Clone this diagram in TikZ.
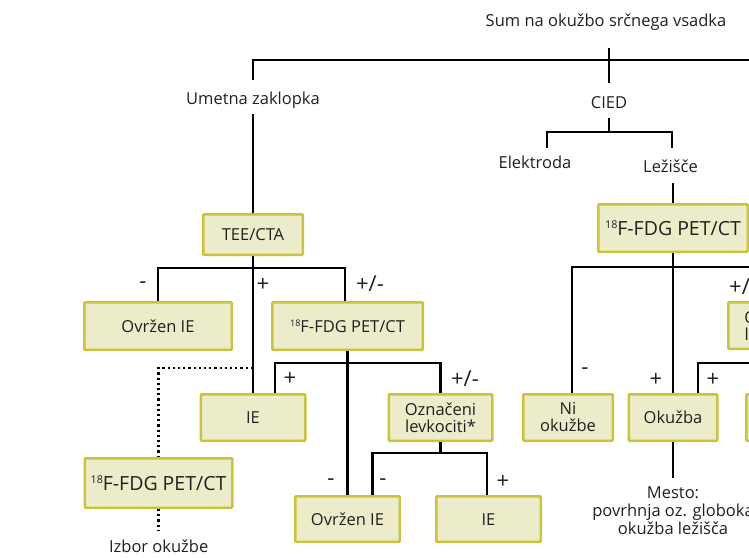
\documentclass[tikz,border=0pt]{standalone}
\usepackage{fontspec}
\setmainfont{Open Sans}
\definecolor{boxc}{HTML}{C9C43C}
\definecolor{boxf}{HTML}{ECECCB}
\definecolor{ink}{HTML}{231F20}
\newcommand\myfs{\fontsize{16.5}{17}\selectfont}
\newcommand\mybigfs{\fontsize{19.5}{20}\selectfont}
\newcommand\mylblfs{\fontsize{22}{22}\selectfont}
\newcommand\myiso{\raisebox{0.32em}{\scalebox{0.55}{18}}}
\begin{document}
\begin{tikzpicture}[x=1pt,y=-1pt,
  conn/.style={line width=2.2pt, draw=black},
  dots/.style={line width=2.2pt, draw=black, dash pattern=on 2.2pt off 3pt},
  box/.style={draw=boxc, fill=boxf, line width=2.5pt, inner sep=0pt, rounded corners=1pt, text=ink, font=\myfs},
  one/.style={text height=12pt, text depth=0pt},
  two/.style={align=center, font=\fontsize{16.5}{17}\selectfont},
  lbl/.style={anchor=base, inner sep=0pt, text=ink, font=\myfs},
  sign/.style={anchor=base, inner sep=0pt, text=ink, font=\mylblfs},
  ]
\useasboundingbox (0,0) rectangle (749,557);
\clip (0,0) rectangle (749,557);

% boxes
\node[box,one,minimum width=99.5pt,minimum height=40.5pt] (tee) at (253,234.5) {TEE/CTA};
\node[box,one,minimum width=147.5pt,minimum height=47.5pt] (ovr1) at (158,326) {Ovržen IE};
\node[box,one,minimum width=150.5pt,minimum height=47.5pt] (fdg1) at (347.5,326) {\myiso F-FDG PET/CT};
\node[box,one,minimum width=104.5pt,minimum height=46.5pt] (ie1) at (253,417.5) {IE};
\node[box,one,font=\mybigfs,text height=14pt,minimum width=147.5pt,minimum height=49.5pt] (fdgL) at (158.5,483) {\myiso F-FDG PET/CT};
\node[box,two,minimum width=103.5pt,minimum height=46.5pt] (ozn1) at (440.5,417.5) {Označeni\\levkociti*};
\node[box,one,minimum width=104.5pt,minimum height=45.5pt] (ovr2) at (347.5,519) {Ovržen IE};
\node[box,one,minimum width=104.5pt,minimum height=45.5pt] (ie2) at (488.5,519) {IE};
\node[box,one,font=\mybigfs,text height=14pt,minimum width=149.5pt,minimum height=47.5pt] (fdgR) at (673,228) {\myiso F-FDG PET/CT};
\node[box,two,minimum width=89.5pt,minimum height=46.5pt] (ni) at (568,417.5) {Ni\\okužbe};
\node[box,one,minimum width=88.5pt,minimum height=46.5pt] (oku) at (673,417.5) {Okužba};
\node[box,two,minimum width=103.5pt,minimum height=46.5pt] (ozn2) at (780,325.5) {Označeni\\levkociti*};
\node[box,minimum width=103.5pt,minimum height=46.5pt] (rbox) at (798,417.5) {};

% plain texts
\node[lbl] (title) at (606,26) {Sum na okužbo srčnega vsadka};
\node[lbl] (umet) at (253,104) {Umetna zaklopka};
\node[lbl] (cied) at (609,108) {CIED};
\node[lbl] (elek) at (535,168) {Elektroda};
\node[lbl] (lez) at (670.5,172) {Ležišče};
\node[lbl] (izbor) at (158.7,552) {Izbor okužbe};
\node[lbl,anchor=north,align=center,font=\fontsize{16.5}{18}\selectfont] (mesto) at (673,487) {Mesto:\\povrhnja oz. globoka\\okužba ležišča};

% branch labels
\node[sign] (l1) at (143,288.5) {-};
\node[sign] (l2) at (263,291) {+};
\node[sign] (l3) at (370,291) {+/-};
\node[sign] (l4) at (290,385) {+};
\node[sign] (l5) at (465,386) {+/-};
\node[sign] (l6) at (331,485.5) {-};
\node[sign] (l7) at (383,485.5) {-};
\node[sign] (l8) at (503,488) {+};
\node[sign] (l9) at (585,374.5) {-};
\node[sign] (l10) at (656,386) {+};
\node[sign] (l11) at (713,386) {+};
\node[sign,anchor=base west] (l12) at (729,294) {+/-};

% junction coordinates
\coordinate (topL) at (253,60);
\coordinate (topR) at (760,60);
\coordinate (umetTop) at (253,80);
\coordinate (umetBot) at (253,114);
\coordinate (titleStem) at (609,48);
\coordinate (ciedTop) at (609,83);
\coordinate (ciedBot) at (609,118);
\coordinate (ciedJ) at (609,132);
\coordinate (elTop) at (547,148);
\coordinate (lezTop) at (672,148);
\coordinate (lezBot) at (673,183);
\coordinate (rJ) at (673,267);
\coordinate (r2J) at (780,363);
\coordinate (tJ) at (253,268);
\coordinate (fJ) at (347.5,363);
\coordinate (oJ) at (440.5,453);
\coordinate (dA) at (253,368);
\coordinate (izTop) at (158.5,530);
\coordinate (okuEnd) at (673,478);

% connectors
\draw[conn] (umetTop) -- (topL) -- (topR);
\draw[conn] (titleStem) -- (ciedTop);
\draw[conn] (umetBot) -- (tee.north);
\draw[conn] (ciedBot) -- (ciedJ);
\draw[conn] (elTop) |- (ciedJ) -| (lezTop);
\draw[conn] (lezBot) -- (fdgR.north);
\draw[conn] (fdgR.south) -- (oku.north);
\draw[conn] ([xshift=4pt]ni.north) |- (rJ) -| (ozn2.north);
\draw[conn] (ozn2.south) -- (r2J) -| ([xshift=25pt]oku.north);
\draw[conn] (r2J) -| (rbox.north);
\draw[conn] (tee.south) -- (ie1.north);
\draw[conn] (ovr1.north) |- (tJ) -| ([xshift=-2.5pt]fdg1.north);
\draw[conn] (fdg1.south) -- (ovr2.north);
\draw[conn] ([xshift=22pt]ie1.north) |- (fJ) -| (ozn1.north);
\draw[conn] (ozn1.south) -- (oJ);
\draw[conn] ([xshift=25pt]ovr2.north) |- (oJ) -| ([xshift=-1.5pt]ie2.north);
\draw[conn] (oku.south) -- (okuEnd);
\draw[dots] (dA) -| (fdgL.north);
\draw[dots] (fdgL.south) -- (izTop);
\end{tikzpicture}
\end{document}
